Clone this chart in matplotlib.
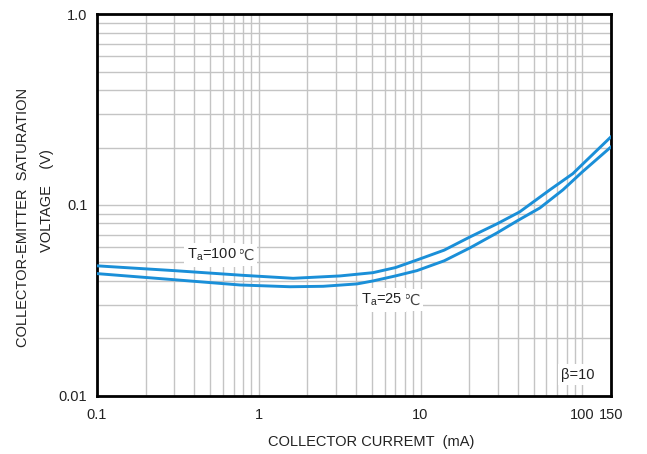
import numpy as np
import matplotlib.pyplot as plt
from matplotlib.ticker import FixedLocator, FixedFormatter, NullFormatter

plt.rcParams['font.family'] = ['Liberation Sans', 'DejaVu Sans']

# Collector current (mA) and saturation voltage (V)
ic_100 = [0.1, 0.3, 0.8, 1.63, 3.18, 5.08, 7, 9.5, 14, 20.2, 30, 41, 63, 87.5, 100, 150]
vce_100 = [0.048, 0.0453, 0.0428, 0.0413, 0.0425, 0.0442, 0.047, 0.0515, 0.058, 0.068,
           0.080, 0.092, 0.12, 0.146, 0.163, 0.227]

ic_25 = [0.1, 0.3, 0.765, 1.56, 2.5, 4.05, 5.08, 7, 9.5, 14, 20.2, 29.7, 40, 54.7, 75.9, 100, 150]
vce_25 = [0.0437, 0.0406, 0.0381, 0.0373, 0.0375, 0.0386, 0.040, 0.0425, 0.0453, 0.051,
          0.0596, 0.0714, 0.083, 0.0965, 0.12, 0.149, 0.201]

x_ticks = [0.1, 1, 10, 100, 150]
x_labels = ["0.1", "1", "10", "100", "150"]
y_ticks = [0.01, 0.1, 1.0]
y_labels = ["0.01", "0.1", "1.0"]

fig = plt.figure(figsize=(6.47, 4.54), dpi=100)
ax = fig.add_axes([0.150, 0.128, 0.794, 0.841])
ax.set_xscale("log")
ax.set_yscale("log")
ax.set_xlim(0.1, 150)
ax.set_ylim(0.01, 1.0)

blue = "#1a8fd8"
ax.plot(ic_100, vce_100, color=blue, lw=2.1, zorder=3, solid_joinstyle="round")
ax.plot(ic_25, vce_25, color=blue, lw=2.1, zorder=3, solid_joinstyle="round")

ax.xaxis.set_major_locator(FixedLocator(x_ticks))
ax.xaxis.set_major_formatter(FixedFormatter(x_labels))
ax.yaxis.set_major_locator(FixedLocator(y_ticks))
ax.yaxis.set_major_formatter(FixedFormatter(y_labels))
ax.xaxis.set_minor_formatter(NullFormatter())
ax.yaxis.set_minor_formatter(NullFormatter())
ax.tick_params(which="both", length=0, labelsize=10.5, colors="#222222")
ax.tick_params(axis="x", pad=9)
ax.tick_params(axis="y", pad=7)

ax.grid(True, which="both", color="#c4c4c4", lw=1.0, zorder=1)
for s in ax.spines.values():
    s.set_linewidth(2.0)
    s.set_color("black")
ax.set_axisbelow(True)

box = dict(facecolor="white", edgecolor="none", pad=2.5)

# temperature labels: "T_a=..." in Arial-like font, the degree sign from DejaVu
t1 = ax.text(0.36, 0.0547, r"T$_\mathregular{a}$=100", fontsize=10.5, ha="left", va="center",
             bbox=box, zorder=5, color="#222222")
ax.annotate("℃", xy=(1, 0.5), xycoords=t1, xytext=(0.5, 0), textcoords="offset points",
            ha="left", va="center", fontsize=10.5, family="DejaVu Sans", bbox=box,
            zorder=4, color="#444444")
t2 = ax.text(4.3, 0.0318, r"T$_\mathregular{a}$=25", fontsize=10.5, ha="left", va="center",
             bbox=box, zorder=5, color="#222222")
ax.annotate("℃", xy=(1, 0.5), xycoords=t2, xytext=(0.5, 0), textcoords="offset points",
            ha="left", va="center", fontsize=10.5, family="DejaVu Sans", bbox=box,
            zorder=4, color="#444444")
ax.text(94, 0.0129, "β=10", fontsize=10.5, ha="center", va="center", bbox=box, zorder=4,
        color="#222222")

fig.text(0.035, 0.522, "COLLECTOR-EMITTER  SATURATION", rotation=90, ha="center", va="center",
         fontsize=10.5, color="#222222")
fig.text(0.073, 0.559, "VOLTAGE    (V)", rotation=90, ha="center", va="center",
         fontsize=10.5, color="#222222")
fig.text(0.574, 0.026, "COLLECTOR CURREMT  (mA)", ha="center", va="center", fontsize=10.5,
         color="#222222")

fig.savefig("out.png", dpi=100)
